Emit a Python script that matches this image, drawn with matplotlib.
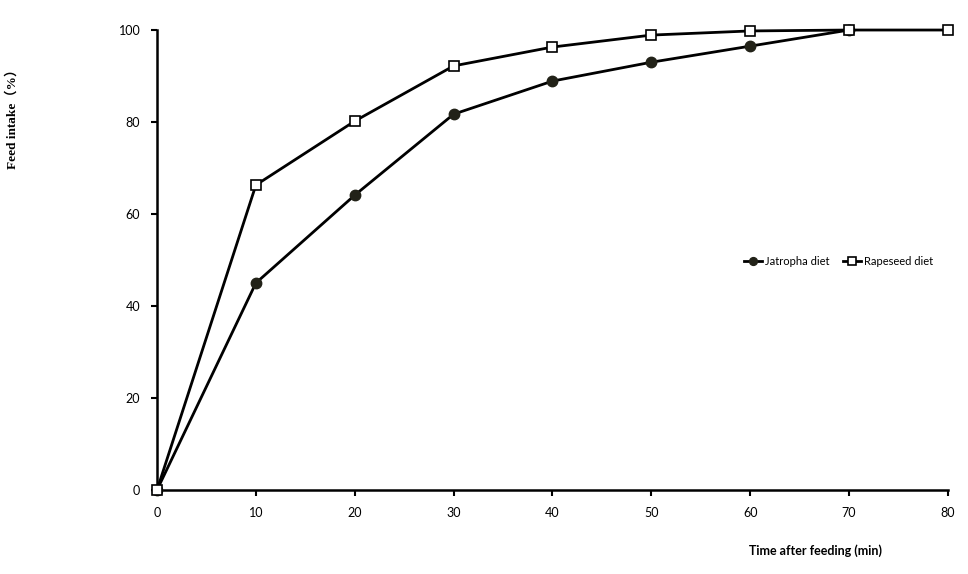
import matplotlib
matplotlib.use("Agg")
import matplotlib.pyplot as plt

time_min = [0, 10, 20, 30, 40, 50, 60, 70, 80]
jatropha_x = [0, 10, 20, 30, 40, 50, 60, 70]
jatropha = [0, 45.0, 64.1, 81.7, 88.9, 93.0, 96.5, 100]
rapeseed = [0, 66.3, 80.2, 92.2, 96.3, 98.9, 99.8, 100, 100]
x_ticks = [0, 10, 20, 30, 40, 50, 60, 70, 80]
y_ticks = [0, 20, 40, 60, 80, 100]

plt.rcParams['font.family'] = ['Lato', 'DejaVu Sans']
fig = plt.figure(figsize=(9.68, 5.74), dpi=100)
ax = fig.add_axes([0.1622, 0.1463, 0.8171, 0.8014])

ax.plot(jatropha_x, jatropha, color='black', lw=2, marker='o', ms=7.5,
        mfc='#222218', mec='#222218', label='Jatropha diet', zorder=3, clip_on=False)
ax.plot(time_min, rapeseed, color='black', lw=2, marker='s', ms=7,
        mfc='white', mec='black', mew=1.2, label='Rapeseed diet', zorder=4, clip_on=False)

ax.set_xlim(0, 80)
ax.set_ylim(0, 100)
ax.set_xticks(x_ticks)
ax.set_yticks(y_ticks)
ax.tick_params(labelsize=9, length=4, width=1.5, direction='out', pad=8)
ax.spines['top'].set_visible(False)
ax.spines['right'].set_visible(False)
ax.spines['left'].set_linewidth(1.8)
ax.spines['bottom'].set_linewidth(1.8)

leg = ax.legend(loc='center', bbox_to_anchor=(0.862, 0.497), ncol=2, frameon=False,
                fontsize=8, handlelength=1.6, columnspacing=1.2, handletextpad=0.3,
                markerscale=0.75)

fig.text(0.013, 0.798, 'Feed intake（%）', rotation=90, fontsize=9.5, fontweight='bold',
         family=['Liberation Serif', 'Noto Sans CJK SC'], ha='center', va='center')
fig.text(0.842, 0.041, 'Time after feeding (min)', fontsize=9, fontweight='bold',
         ha='center', va='center')

fig.savefig('out.png', dpi=100)
